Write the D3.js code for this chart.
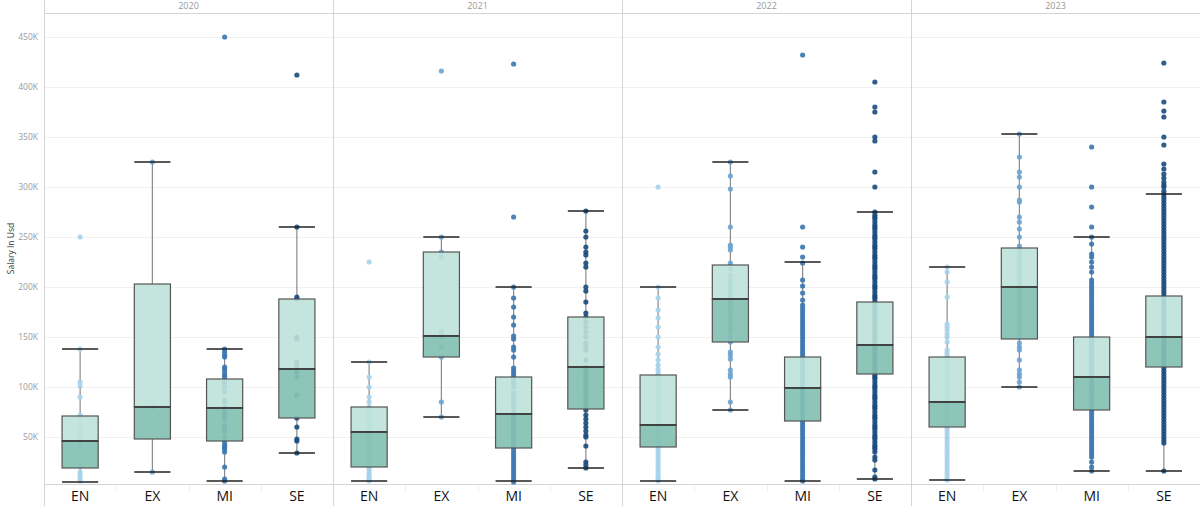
<!DOCTYPE html>
<html>
<head>
<meta charset="utf-8">
<script src="https://cdn.jsdelivr.net/npm/d3@7"></script>
<style>
  html, body { margin: 0; padding: 0; background: #fff; }
  svg { display: block; }
</style>
</head>
<body>
<svg id="chart" width="1200" height="506"></svg>
<script>
// ---------- DATA (salary values in thousands of USD) ----------
const years = ["2020", "2021", "2022", "2023"];
const levels = ["EN", "EX", "MI", "SE"];
const yTicks = [50, 100, 150, 200, 250, 300, 350, 400, 450];

// box statistics per year, in level order EN, EX, MI, SE
const whiskerLow  = [[5, 15, 6, 34], [6, 70, 6, 19], [6, 77, 6, 8], [7, 100, 16, 16]];
const q1Values    = [[19, 48, 46, 69], [20, 130, 39, 78], [40, 145, 66, 113], [60, 148, 77, 120]];
const medianValues= [[46, 80, 79, 118], [55, 151, 73, 120], [62, 188, 99, 142], [85, 200, 110, 150]];
const q3Values    = [[71, 203, 108, 188], [80, 235, 110, 170], [112, 222, 130, 185], [130, 239, 150, 191]];
const whiskerHigh = [[138, 325, 138, 260], [125, 250, 200, 276], [200, 325, 225, 275], [220, 353, 250, 293]];

// individual salaries per year and level
const points2020 = [
  [250, 138, 105, 101, 90, 72, 70, 62, 56, 53, 50, 46, 42, 40, 24, 22, 15, 12, 9, 6],
  [325, 80, 15],
  [450, 138, 135, 132, 130, 120, 118, 115, 112, 110, 105, 102, 100, 95, 87, 85, 80, 78, 75, 72, 70, 68, 62, 60, 58, 55, 50, 45, 42, 40, 38, 35, 20, 8, 6],
  [412, 260, 190, 188, 150, 148, 125, 120, 115, 110, 92, 69, 60, 48, 46, 34]
];
const points2021 = [
  [225, 125, 110, 100, 90, 85, 80, 76, 72, 70, 66, 62, 60, 57, 55, 52, 50, 48, 45, 42, 40, 37, 35, 32, 30, 28, 25, 22, 20, 18, 15, 12, 10, 8, 6],
  [416, 250, 235, 230, 155, 152, 150, 140, 130, 85, 70],
  [423, 270, 200, 189, 180, 170, 162, 151, 148, 140, 137, 130, 119, 116, 113, 110, 107, 104, 100, 94, 90, 87, 84, 80, 76, 73, 70, 67, 64, 61, 58, 55, 52, 49, 46, 43, 40, 37, 34, 31, 28, 25, 22, 19, 16, 13, 10, 7, 5],
  [276, 256, 250, 240, 235, 232, 224, 220, 200, 196, 185, 174, 170, 165, 160, 155, 150, 144, 140, 137, 127, 120, 117, 114, 111, 108, 105, 102, 99, 96, 93, 90, 87, 84, 80, 77, 72, 68, 64, 60, 56, 52, 50, 41, 25, 22, 19]
];
const points2022 = [
  [300, 200, 189, 177, 169, 160, 150, 140, 133, 127, 122, 118, 115, 112, 109, 106, 103, 100, 97, 94, 91, 88, 85, 82, 79, 76, 73, 70, 67, 64, 61, 58, 55, 52, 49, 46, 43, 40, 37, 34, 31, 28, 25, 22, 19, 16, 13, 10, 8, 6],
  [325, 311, 298, 260, 242, 240, 237, 224, 218, 212, 208, 204, 200, 197, 193, 190, 187, 183, 180, 177, 174, 170, 166, 162, 158, 155, 150, 145, 135, 132, 128, 117, 113, 110, 85, 77],
  [432, 260, 240, 230, 224, 207, 201, 194, 187, 182, 179, 176, 173, 170, 167, 164, 161, 158, 155, 152, 149, 146, 143, 140, 137, 134, 131, 128, 125, 122, 119, 116, 113, 110, 107, 104, 101, 98, 95, 92, 89, 86, 83, 80, 77, 74, 71, 68, 65, 62, 59, 56, 53, 50, 47, 44, 41, 38, 35, 32, 29, 26, 23, 20, 17, 14, 11, 8, 6],
  [405, 380, 375, 350, 346, 315, 300, 275, 272, 270, 268, 265, 262, 260, 258, 255, 252, 250, 248, 245, 242, 240, 238, 235, 232, 230, 228, 225, 222, 220, 218, 215, 212, 210, 208, 205, 202, 200, 198, 195, 192, 190, 188, 185, 182, 180, 178, 175, 172, 170, 168, 165, 162, 160, 158, 155, 152, 150, 148, 145, 142, 140, 138, 135, 132, 130, 128, 125, 122, 120, 118, 115, 112, 110, 108, 105, 102, 100, 98, 95, 92, 90, 88, 85, 82, 80, 78, 75, 72, 70, 68, 65, 62, 60, 58, 55, 52, 50, 48, 45, 42, 40, 38, 35, 30, 27, 17, 10, 8]
];
const points2023 = [
  [220, 215, 205, 190, 163, 160, 157, 153, 150, 145, 137, 134, 131, 128, 125, 122, 119, 116, 113, 110, 107, 104, 101, 98, 95, 92, 89, 86, 83, 80, 77, 74, 71, 68, 65, 62, 59, 56, 53, 50, 47, 44, 41, 38, 35, 32, 29, 26, 23, 20, 17, 14, 11, 8, 7],
  [353, 330, 315, 310, 300, 287, 285, 270, 265, 258, 250, 241, 236, 233, 229, 225, 222, 218, 214, 210, 206, 203, 200, 196, 192, 188, 184, 180, 176, 172, 168, 165, 161, 157, 154, 150, 144, 140, 137, 127, 117, 113, 110, 105, 100],
  [340, 300, 280, 260, 250, 243, 233, 230, 225, 220, 215, 207, 204, 201, 198, 195, 192, 189, 186, 183, 180, 177, 174, 171, 168, 165, 162, 159, 156, 153, 150, 147, 144, 141, 138, 135, 132, 129, 126, 123, 120, 117, 114, 111, 108, 105, 102, 99, 96, 93, 90, 87, 84, 81, 78, 75, 72, 69, 66, 63, 60, 57, 54, 51, 48, 45, 42, 39, 36, 33, 30, 25, 20, 16],
  [424, 385, 376, 370, 350, 342, 323, 318, 313, 309, 305, 302, 300, 296, 293, 290, 287, 284, 281, 278, 275, 272, 269, 266, 263, 260, 257, 254, 251, 248, 245, 242, 239, 236, 233, 230, 227, 224, 221, 218, 215, 212, 209, 206, 203, 200, 197, 194, 191, 188, 185, 182, 179, 176, 173, 170, 167, 164, 161, 158, 155, 152, 149, 146, 143, 140, 137, 134, 131, 128, 125, 122, 119, 116, 113, 110, 107, 104, 101, 98, 95, 92, 89, 86, 83, 80, 77, 74, 71, 68, 65, 62, 59, 56, 53, 50, 47, 44, 16]
];
const pointsByYear = [points2020, points2021, points2022, points2023];

const levelColors = ["#a6d3ec", "#6aa3d2", "#3b76b0", "#1b4b7d"];

// ---------- LAYOUT ----------
const W = 1200, H = 506;
const plotLeft = 44, plotRight = 1200, plotTop = 13, plotBottom = 484;

const svg = d3.select("#chart");

const xYear = d3.scaleBand().domain(years).range([plotLeft, plotRight]).padding(0);
const y = d3.scaleLinear().domain([3, 474]).range([plotBottom, plotTop]);

// gridlines
svg.append("g").selectAll("line").data(yTicks).join("line")
  .attr("x1", plotLeft).attr("x2", plotRight)
  .attr("y1", d => Math.round(y(d)) + 0.5).attr("y2", d => Math.round(y(d)) + 0.5)
  .attr("stroke", "#f1f1f1").attr("stroke-width", 1);

// y axis labels
const yAxis = d3.axisLeft(y).tickValues(yTicks).tickFormat(d => d + "K").tickSize(0).tickPadding(6);
const yAxisG = svg.append("g").attr("transform", `translate(${plotLeft},0)`).call(yAxis);
yAxisG.select(".domain").remove();
yAxisG.selectAll("text")
  .attr("font-family", "Open Sans, Noto Sans, sans-serif")
  .attr("font-size", 8.5).attr("fill", "#9a9a9a");

// y axis title
svg.append("text")
  .attr("transform", `translate(12,${(plotTop + plotBottom) / 2}) rotate(-90)`)
  .attr("text-anchor", "middle").attr("dominant-baseline", "middle")
  .attr("font-family", "Open Sans, Noto Sans, sans-serif")
  .attr("font-size", 8.5).attr("fill", "#333")
  .text("Salary In Usd");

// header line & axis baseline
svg.append("line").attr("x1", plotLeft).attr("x2", plotRight)
  .attr("y1", plotTop + 0.5).attr("y2", plotTop + 0.5).attr("stroke", "#d4d4d4");
svg.append("line").attr("x1", plotLeft).attr("x2", plotRight)
  .attr("y1", plotBottom + 0.5).attr("y2", plotBottom + 0.5).attr("stroke", "#d4d4d4");
// left axis line
svg.append("line").attr("x1", plotLeft + 0.5).attr("x2", plotLeft + 0.5)
  .attr("y1", 0).attr("y2", H).attr("stroke", "#d4d4d4");

years.forEach((yr, yi) => {
  const x0 = xYear(yr);
  const bw = xYear.bandwidth();
  const xLevel = d3.scaleBand().domain(levels).range([x0, x0 + bw]).padding(0);
  const boxW = xLevel.bandwidth() / 2;
  const g = svg.append("g");

  // panel separator
  if (yi > 0) {
    g.append("line").attr("x1", Math.round(x0) + 0.5).attr("x2", Math.round(x0) + 0.5)
      .attr("y1", 0).attr("y2", H).attr("stroke", "#d4d4d4");
  }
  // year header
  g.append("text").attr("x", x0 + bw / 2).attr("y", 7)
    .attr("text-anchor", "middle").attr("dominant-baseline", "middle")
    .attr("font-family", "Open Sans, Noto Sans, sans-serif")
    .attr("font-size", 9).attr("fill", "#999").text(yr);

  // faint category separators beneath baseline
  g.append("g").selectAll("line").data(levels.slice(1)).join("line")
    .attr("x1", d => Math.round(xLevel(d)) + 0.5).attr("x2", d => Math.round(xLevel(d)) + 0.5)
    .attr("y1", plotBottom + 1).attr("y2", plotBottom + 8).attr("stroke", "#f0f0f0");

  // category labels
  const xAxis = d3.axisBottom(xLevel).tickSize(0).tickPadding(7);
  const xg = g.append("g").attr("transform", `translate(0,${plotBottom})`).call(xAxis);
  xg.select(".domain").remove();
  xg.selectAll("text").attr("font-family", "Open Sans, Noto Sans, sans-serif")
    .attr("font-size", 14).attr("fill", "#111");

  levels.forEach((lv, li) => {
    const cx = xLevel(lv) + xLevel.bandwidth() / 2;
    const lo = whiskerLow[yi][li], hi = whiskerHigh[yi][li];
    const q1 = q1Values[yi][li], md = medianValues[yi][li], q3 = q3Values[yi][li];

    // whisker stems
    g.append("line").attr("x1", cx).attr("x2", cx).attr("y1", y(q3)).attr("y2", y(hi))
      .attr("stroke", "#8a8a8a").attr("stroke-width", 1.2);
    g.append("line").attr("x1", cx).attr("x2", cx).attr("y1", y(q1)).attr("y2", y(lo))
      .attr("stroke", "#8a8a8a").attr("stroke-width", 1.2);

    // points
    g.append("g").selectAll("circle").data(pointsByYear[yi][li]).join("circle")
      .attr("cx", cx).attr("cy", d => y(d)).attr("r", 2.6)
      .attr("fill", levelColors[li]).attr("fill-opacity", 0.9);

    // whisker caps
    [lo, hi].forEach(v => {
      g.append("line").attr("x1", cx - boxW / 2).attr("x2", cx + boxW / 2)
        .attr("y1", y(v)).attr("y2", y(v))
        .attr("stroke", "#222").attr("stroke-width", 1.4);
    });

    // box: upper (median -> q3)
    g.append("rect").attr("x", cx - boxW / 2).attr("width", boxW)
      .attr("y", y(q3)).attr("height", y(md) - y(q3))
      .attr("fill", "#bde2d9").attr("fill-opacity", 0.9)
      .attr("stroke", "#555").attr("stroke-width", 1.2);
    // box: lower (q1 -> median)
    g.append("rect").attr("x", cx - boxW / 2).attr("width", boxW)
      .attr("y", y(md)).attr("height", y(q1) - y(md))
      .attr("fill", "#84c0b3").attr("fill-opacity", 0.92)
      .attr("stroke", "#555").attr("stroke-width", 1.2);
    // median line
    g.append("line").attr("x1", cx - boxW / 2).attr("x2", cx + boxW / 2)
      .attr("y1", y(md)).attr("y2", y(md)).attr("stroke", "#333").attr("stroke-width", 1.4);
  });
});
</script>
</body>
</html>
